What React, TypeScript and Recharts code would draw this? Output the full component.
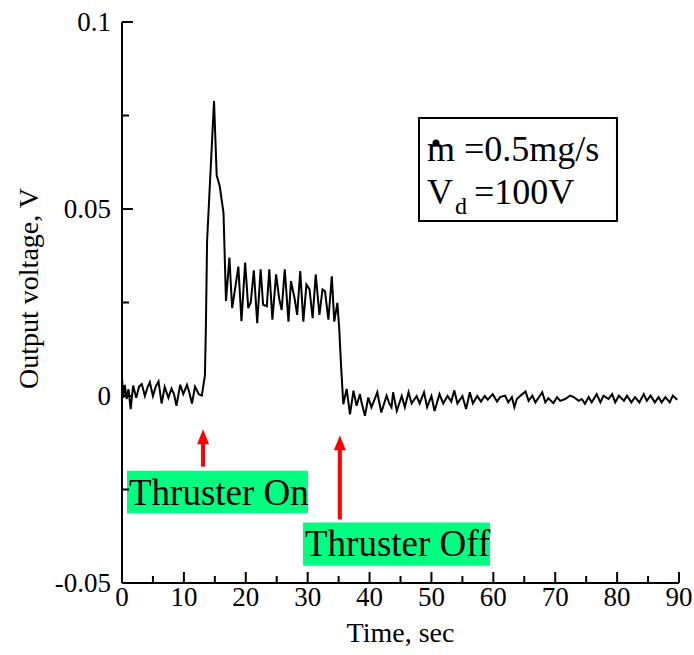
import { LineChart, Line, XAxis, YAxis, ReferenceArea, ReferenceLine } from 'recharts';

// thrust-stand output as [time s, volts]
const preFire: [number, number][] = [
  [0, 0.005], [0.2, -0.0005], [0.45, 0.003], [0.75, -0.0008], [1.05, 0.0018], [1.4, -0.0035],
  [1.8, 0.0028], [2.3, -0.0005], [2.75, 0.0025], [3.2, 0.0032], [3.7, 0], [4.1, 0.0022],
  [4.5, 0.0037], [5.0, 0], [5.45, 0.0025], [5.9, 0.0039], [6.4, -0.002], [6.9, 0.0024],
  [7.5, -0.0005], [8.0, 0.002], [8.4, 0.0005], [8.8, -0.0026], [9.4, 0.003], [9.9, 0.0005],
  [10.5, 0.003], [10.9, 0.0008], [11.3, -0.002], [11.8, 0.0025], [12.4, 0.0005], [12.9, 0.0001],
];
const ignition: [number, number][] = [
  [13.4, 0.0055], [13.55, 0.018], [13.75, 0.0415], [14.87, 0.0789], [15.3, 0.059], [15.8, 0.056],
  [16.4, 0.049], [16.8, 0.0254],
];
const plateau: [number, number][] = [
  [17.35, 0.037], [17.8, 0.0235], [18.3, 0.029], [18.8, 0.0346], [19.3, 0.02], [19.9, 0.0357],
  [20.4, 0.0235], [20.8, 0.025], [21.3, 0.0336], [21.85, 0.0195], [22.4, 0.0339], [22.8, 0.0244],
  [23.4, 0.024], [23.8, 0.0339], [24.3, 0.0204], [24.9, 0.0325], [25.4, 0.026], [25.8, 0.023],
  [26.3, 0.0339], [26.9, 0.0199], [27.3, 0.0307], [27.9, 0.026], [28.3, 0.0217], [28.8, 0.0334],
  [29.3, 0.0199], [29.8, 0.0298], [30.3, 0.0285], [30.8, 0.0208], [31.3, 0.0325], [31.9, 0.0217],
  [32.4, 0.0285], [32.8, 0.028], [33.35, 0.0204], [33.9, 0.032], [34.3, 0.0199], [34.8, 0.0249],
  [35.1, 0.018],
];
const shutdown: [number, number][] = [
  [35.4, 0.008], [35.76, -0.0022],
];
const tail: [number, number][] = [
  [36.3, 0.0019], [36.84, -0.0049], [37.4, 0.0014], [37.9, -0.0026], [38.45, 0.0005], [38.7, -0.0017],
  [39.25, -0.0053], [39.8, -0.0004], [40.3, -0.003], [40.8, -0.001], [41.25, 0.001], [41.9, -0.0044],
  [42.75, 0.0001], [43.2, -0.002], [43.55, -0.003], [43.8, 0.001], [44.4, -0.004], [45.2, 0],
  [45.7, -0.003], [46.3, 0.001], [46.8, -0.002], [47.6, 0], [48.1, -0.002], [48.8, 0.001],
  [49.3, -0.003], [50.0, 0], [50.5, -0.004], [51.3, 0.0005], [51.9, -0.002], [52.6, 0],
  [53.2, -0.0015], [53.7, 0.0015], [54.2, -0.002], [55.0, 0], [55.6, -0.0035], [56.2, 0.001],
  [56.7, -0.002], [57.4, 0], [58.0, -0.0015], [58.6, 0], [59.1, -0.001], [59.9, 0.0005],
  [60.6, -0.0015], [61.1, -0.0003], [61.9, 0.0001], [62.4, -0.0017], [63.0, -0.0003], [63.4, -0.003],
  [63.8, -0.0008], [64.4, 0.0001], [65.2, 0.0012], [65.7, -0.0013], [66.3, 0.0001], [66.8, -0.0017],
  [67.9, 0.001], [68.4, -0.0017], [68.9, -0.0006], [69.7, -0.0019], [70.3, -0.0003], [70.8, -0.0013],
  [71.6, -0.0008], [72.4, 0.0001], [73.0, -0.0003], [73.8, -0.0013], [74.3, -0.0008], [74.8, -0.0021],
  [75.4, -0.0003], [75.9, -0.0017], [76.7, 0.0005], [77.3, -0.0017], [77.8, 0.0001], [78.6, -0.0008],
  [79.2, 0.0005], [79.7, -0.0017], [80.3, 0.0001], [81.1, -0.0013], [81.6, 0.0001], [82.3, -0.0017],
  [82.9, -0.0003], [83.6, -0.0017], [84.3, 0.0005], [84.8, -0.0013], [85.4, 0.0001], [86.1, -0.0017],
  [86.7, -0.0003], [87.2, -0.0017], [87.8, -0.0003], [88.5, -0.0017], [89.0, 0.0001], [89.7, -0.001],
];

const xTicks = [0, 5, 10, 15, 20, 25, 30, 35, 40, 45, 50, 55, 60, 65, 70, 75, 80, 85, 90];
const yTicks = [-0.05, -0.025, 0, 0.025, 0.05, 0.075, 0.1];
const yLabels: Record<string, string> = { '-0.05': '-0.05', '0': '0', '0.05': '0.05', '0.1': '0.1' };

const data = [...preFire, ...ignition, ...plateau, ...shutdown, ...tail].map(([t, v]) => ({ t, v }));

const FONT = '"Liberation Serif", "Times New Roman", serif';
const GREEN = '#00FF80';

function XTick(props: any) {
  const { x, y, payload } = props;
  const major = payload.value % 10 === 0;
  return (
    <g>
      <line x1={x} y1={y} x2={x} y2={y - (major ? 11 : 7)} stroke="#000" strokeWidth={2} />
      {major && (
        <text x={x} y={y + 23} textAnchor="middle" fontFamily={FONT} fontSize={27} fill="#000">
          {payload.value}
        </text>
      )}
    </g>
  );
}

function YTick(props: any) {
  const { x, y, payload } = props;
  const label = yLabels[String(payload.value)];
  return (
    <g>
      <line x1={x} y1={y} x2={x + (label ? 11 : 7)} y2={y} stroke="#000" strokeWidth={2} />
      {label && (
        <text x={x - 11} y={y + 9} textAnchor="end" fontFamily={FONT} fontSize={27} fill="#000">
          {label}
        </text>
      )}
    </g>
  );
}

function Arrow(props: any) {
  const { x1, y1, x2, y2 } = props;
  // upper end is the tip
  const tipY = Math.min(y1, y2);
  const tailY = Math.max(y1, y2);
  const x = x1;
  return (
    <g>
      <line x1={x} y1={tailY} x2={x} y2={tipY + 12} stroke="#FF0000" strokeWidth={4} />
      <polygon points={`${x},${tipY} ${x - 6},${tipY + 15} ${x + 6},${tipY + 15}`} fill="#FF0000" />
    </g>
  );
}

function tagLabel(text: string) {
  return (p: any) => {
    const vb = p.viewBox;
    return (
      <text x={vb.x + 2} y={vb.y + 34} fontFamily={FONT} fontSize={37} fill="#000">
        {text}
      </text>
    );
  };
}

function ConditionsLabel(p: any) {
  const { x, y } = p.viewBox;
  return (
    <g fontFamily={FONT} fill="#000">
      <text x={x + 8} y={y + 43} fontSize={36}>m</text>
      <circle cx={x + 17} cy={y + 25} r={3.5} fill="#000" />
      <text x={x + 45} y={y + 43} fontSize={36}>=0.5mg/s</text>
      <text x={x + 8} y={y + 86} fontSize={36}>V</text>
      <text x={x + 36} y={y + 96} fontSize={24}>d</text>
      <text x={x + 55} y={y + 86} fontSize={36}>=100V</text>
    </g>
  );
}

export default function App() {
  return (
    <div style={{ position: 'absolute', left: 0, top: 0, background: '#fff' }}>
      <LineChart width={694} height={655} data={data} margin={{ top: 22, right: 15, bottom: 0, left: 0 }}>
        <XAxis
          dataKey="t"
          type="number"
          domain={[0, 90]}
          ticks={xTicks}
          interval={0}
          height={72}
          tickSize={0}
          tickMargin={0}
          tickLine={false}
          tick={<XTick />}
          axisLine={{ stroke: '#000', strokeWidth: 2 }}
          label={{
            content: (p: any) => {
              const vb = p.viewBox;
              return (
                <text x={vb.x + vb.width / 2} y={vb.y + 59} textAnchor="middle" fontFamily={FONT} fontSize={28} fill="#000">
                  Time, sec
                </text>
              );
            },
          }}
        />
        <YAxis
          type="number"
          domain={[-0.05, 0.1]}
          ticks={yTicks}
          interval={0}
          width={122}
          tickSize={0}
          tickMargin={0}
          tickLine={false}
          tick={<YTick />}
          axisLine={{ stroke: '#000', strokeWidth: 2 }}
          label={{
            content: (p: any) => {
              const vb = p.viewBox;
              const cx = vb.x + 28;
              const cy = vb.y + vb.height / 2 - 14;
              return (
                <text
                  x={cx}
                  y={cy}
                  transform={`rotate(-90 ${cx} ${cy})`}
                  textAnchor="middle"
                  dominantBaseline="central"
                  fontFamily={FONT}
                  fontSize={28}
                  fill="#000"
                >
                  Output voltage, V
                </text>
              );
            },
          }}
        />
        <ReferenceArea
          x1={47.99}
          x2={79.98}
          y1={0.04676}
          y2={0.0743}
          fill="#fff"
          fillOpacity={1}
          stroke="#000"
          strokeWidth={2}
          label={{ content: ConditionsLabel }}
        />
        <ReferenceArea
          x1={0.81}
          x2={30.05}
          y1={-0.03135}
          y2={-0.02}
          fill={GREEN}
          fillOpacity={1}
          stroke="none"
          label={{ content: tagLabel('Thruster On') }}
        />
        <ReferenceArea
          x1={29.25}
          x2={59.46}
          y1={-0.0454}
          y2={-0.0338}
          fill={GREEN}
          fillOpacity={1}
          stroke="none"
          label={{ content: tagLabel('Thruster Off') }}
        />
        <ReferenceLine
          segment={[{ x: 13.1, y: -0.0189 }, { x: 13.1, y: -0.0089 }]}
          shape={<Arrow />}
        />
        <ReferenceLine
          segment={[{ x: 35.2, y: -0.033 }, { x: 35.2, y: -0.0105 }]}
          shape={<Arrow />}
        />
        <Line
          dataKey="v"
          type="linear"
          stroke="#000"
          strokeWidth={2}
          dot={false}
          isAnimationActive={false}
        />
      </LineChart>
    </div>
  );
}
